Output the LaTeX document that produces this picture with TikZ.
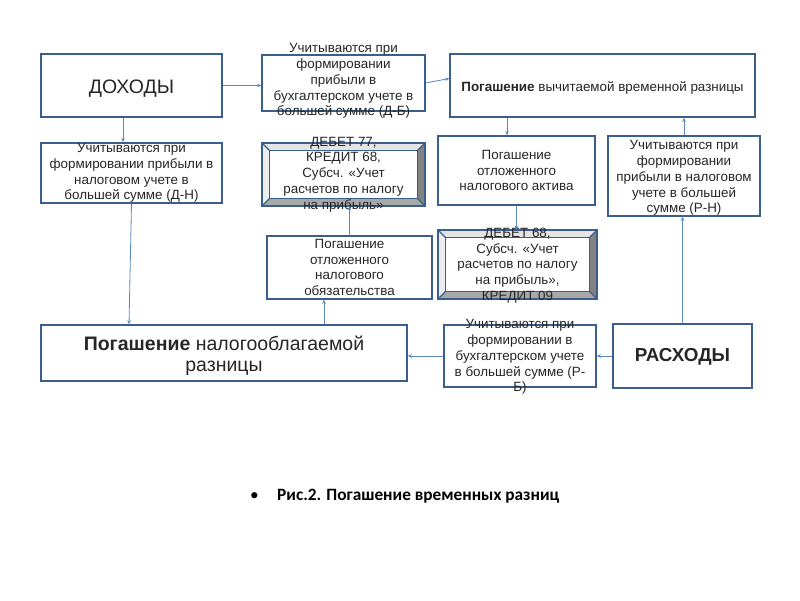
\documentclass[tikz,border=0pt]{standalone}
\usepackage{fontspec}
\setmainfont{Liberation Sans}
\newfontfamily\capfont{Carlito}
\usetikzlibrary{fit,arrows.meta}
\definecolor{bcol}{HTML}{3A5F8C}
\definecolor{acol}{HTML}{5B87C0}
\definecolor{bvlight}{HTML}{E4E4E4}
\definecolor{bvleft}{HTML}{EDEDED}
\definecolor{bvright}{HTML}{828282}
\definecolor{bvbot}{HTML}{A8A8A8}
\tikzset{
  bx/.style={draw=bcol, line width=1.5pt, fill=white, inner sep=0pt},
  txt/.style={align=center, inner sep=0pt, font=\fontsize{13.4}{15.8}\selectfont, text=black!85},
  arr/.style={draw=acol, line width=0.8pt, -{Stealth[length=4pt,width=3.5pt]}},
}
\newcommand\bevelfaces[1]{%
  \fill[bvlight] (#1.north west) -- (#1.north east) -- ([xshift=-8pt,yshift=-8pt]#1.north east) -- ([xshift=8pt,yshift=-8pt]#1.north west) -- cycle;
  \fill[bvleft] (#1.north west) -- (#1.south west) -- ([xshift=8pt,yshift=8pt]#1.south west) -- ([xshift=8pt,yshift=-8pt]#1.north west) -- cycle;
  \fill[bvright] (#1.north east) -- (#1.south east) -- ([xshift=-8pt,yshift=8pt]#1.south east) -- ([xshift=-8pt,yshift=-8pt]#1.north east) -- cycle;
  \fill[bvbot] (#1.south west) -- (#1.south east) -- ([xshift=-8pt,yshift=8pt]#1.south east) -- ([xshift=8pt,yshift=8pt]#1.south west) -- cycle;
  \draw[bcol, line width=1.5pt] (#1.north west) rectangle (#1.south east);
  \draw[bcol, line width=1.2pt] ([xshift=8pt,yshift=-8pt]#1.north west) rectangle ([xshift=-8pt,yshift=8pt]#1.south east);
  \draw[bcol, line width=1.2pt] (#1.north west) -- ([xshift=8pt,yshift=-8pt]#1.north west)
     (#1.north east) -- ([xshift=-8pt,yshift=-8pt]#1.north east)
     (#1.south west) -- ([xshift=8pt,yshift=8pt]#1.south west)
     (#1.south east) -- ([xshift=-8pt,yshift=8pt]#1.south east);
}
\begin{document}
\begin{tikzpicture}[x=1pt,y=-1pt]
\useasboundingbox[fill=white] (0,0) rectangle (800,600);
% boxes
\node[bx, fit={(41,54) (222,117)}] (doh) {};
\node[bx, fit={(262,55) (425,111)}] (b2) {};
\node[bx, fit={(450,54) (755,117)}] (b3) {};
\node[bx, fit={(41,143) (222,203)}] (b4) {};
\node[inner sep=0pt, fit={(262,143) (425,206)}] (b5) {};
\node[bx, fit={(438,136) (595,205)}] (b6) {};
\node[bx, fit={(608,136) (760,216)}] (b7) {};
\node[bx, fit={(267,236) (432,299)}] (b8) {};
\node[inner sep=0pt, fit={(438,230) (597,299)}] (b9) {};
\node[bx, fit={(41,325) (407,381)}] (b10) {};
\node[bx, fit={(444,325) (596,387)}] (b11) {};
\node[bx, fit={(613,324) (752,388)}] (ras) {};
\bevelfaces{b5}
\bevelfaces{b9}
% texts
\node[txt, font=\fontsize{19.5}{22}\selectfont] (tdoh) at ([yshift=-3pt]doh) {ДОХОДЫ};
\node[txt] (t2) at ([yshift=2pt]b2) {Учитываются при\\формировании\\прибыли в\\бухгалтерском учете в\\большей сумме (Д-Б)};
\node[txt] (t3) at ([yshift=-2pt]b3) {\textbf{Погашение} вычитаемой временной разницы};
\node[txt] (t4) at (b4) {Учитываются при\\формировании прибыли в\\налоговом учете в\\большей сумме (Д-Н)};
\node[txt] (t5) at (b5) {ДЕБЕТ 77,\\КРЕДИТ 68,\\Субсч. «Учет\\расчетов по налогу\\на прибыль»};
\node[txt] (t6) at (b6) {Погашение\\отложенного\\налогового актива};
\node[txt] (t7) at ([yshift=-2pt]b7) {Учитываются при\\формировании\\прибыли в налоговом\\учете в большей\\сумме (Р-Н)};
\node[txt] (t8) at (b8) {Погашение\\отложенного\\налогового\\обязательства};
\node[txt] (t9) at ([yshift=-1pt]b9) {ДЕБЕТ 68,\\Субсч. «Учет\\расчетов по налогу\\на прибыль»,\\КРЕДИТ 09};
\node[txt, font=\fontsize{19.5}{21}\selectfont] (t10) at ([yshift=-3pt]b10) {\textbf{Погашение} налогооблагаемой\\разницы};
\node[txt] (t11) at ([yshift=-1pt]b11) {Учитываются при\\формировании в\\бухгалтерском учете\\в большей сумме (Р-\\Б)};
\node[txt, font=\fontsize{18.8}{20}\selectfont\bfseries] (tras) at ([yshift=-1pt]ras) {РАСХОДЫ};
% caption
\node[anchor=base west, inner sep=0pt, font=\capfont\fontsize{17.3}{20}\selectfont] (bul) at (250,500) {•};
\node[anchor=base west, inner sep=0pt, font=\capfont\fontsize{17.3}{20}\selectfont\bfseries] (cap) at (277,500) {Рис.2. Погашение временных разниц};
% connectors
\draw[arr] (doh.east) -- (doh.east -| b2.west);
\draw[arr] (b2.east) -- ([yshift=7pt]b3.west);
\draw[arr] ([xshift=-8.5pt]doh.south) -- ([xshift=-8.5pt]doh.south |- b4.north);
\draw[arr] (b4.south) -- ([xshift=-95pt]b10.north);
\draw[arr] ([xshift=100pt]b10.north) -- ([xshift=100pt]b10.north |- b8.south);
\draw[arr] (b8.north) -- (b8.north |- b5.south);
\draw[arr] ([xshift=-9.5pt]b6.north |- b3.south) -- ([xshift=-9.5pt]b6.north);
\draw[arr] (b6.south) -- (b6.south |- b9.north);
\draw[arr] (b7.north) -- (b7.north |- b3.south);
\draw[arr] (ras.north) -- (ras.north |- b7.south);
\draw[arr] (ras.west) -- (b11.east);
\draw[arr] (b11.west) -- (b11.west -| b10.east);
\end{tikzpicture}
\end{document}
